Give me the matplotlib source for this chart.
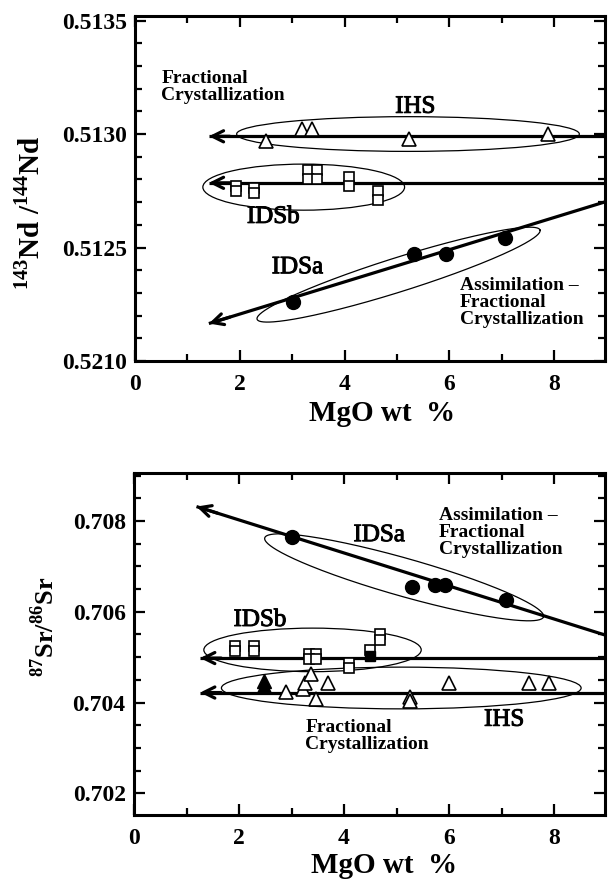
import numpy as np
import matplotlib
matplotlib.use("Agg")
import matplotlib.pyplot as plt
import matplotlib.patheffects as pe
from matplotlib.patches import Ellipse
from matplotlib.ticker import FixedLocator, FixedFormatter, MultipleLocator

plt.rcParams['font.family'] = ['Liberation Serif', 'DejaVu Serif']
plt.rcParams['mathtext.fontset'] = 'custom'
plt.rcParams['mathtext.rm'] = 'Liberation Serif:bold'
plt.rcParams['mathtext.bf'] = 'Liberation Serif:bold'

# ---- Nd panel data ----
nd_ihs_x = [2.50, 3.19, 3.37, 5.22, 7.89]
nd_ihs_y = [0.51297, 0.51302, 0.51302, 0.51298, 0.51300]
nd_idsb_x = [1.92, 1.92, 2.28, 2.28, 3.31, 3.47, 3.31, 3.47, 4.08, 4.08, 4.63, 4.63]
nd_idsb_y = [0.51277, 0.51275, 0.51276, 0.51274, 0.51284, 0.51284, 0.51280, 0.51280,
             0.51281, 0.51277, 0.51275, 0.51271]
nd_idsa_x = [3.01, 5.32, 5.93, 7.07]
nd_idsa_y = [0.51226, 0.51247, 0.51247, 0.51254]

# trend lines: (arrow tip x, tip y, slope)
nd_trends = [(1.41, 0.51299, 0.0), (1.41, 0.512785, 0.0), (1.41, 0.512165, 0.0000709)]
# group outlines: (cx, cy, width, height) and tilted (x1, y1, x2, y2, minor px)
nd_boxes = [(5.21, 0.51300, 6.54, 0.000153), (3.22, 0.512766, 3.85, 0.000203)]
nd_tilted = [(2.33, 0.512184, 7.73, 0.512577, 34)]

nd_yticks = [0.5120, 0.5125, 0.5130, 0.5135]
nd_ylabels = ['0.5210', '0.5125', '0.5130', '0.5135']

# ---- Sr panel data ----
sr_idsa_x = [3.01, 5.30, 5.74, 5.92, 7.08]
sr_idsa_y = [0.70766, 0.70655, 0.70658, 0.70658, 0.70625]
sr_idsb_x = [1.92, 1.92, 2.29, 2.29, 3.33, 3.46, 3.33, 3.46, 4.10, 4.10, 4.49, 4.68, 4.68]
sr_idsb_y = [0.70525, 0.70513, 0.70525, 0.70513, 0.70506, 0.70506, 0.70495, 0.70495,
             0.70487, 0.70476, 0.70516, 0.70550, 0.70538]
sr_idsb_fx = [4.49]
sr_idsb_fy = [0.70503]
sr_ihs_x = [2.89, 3.22, 3.26, 3.37, 3.47, 3.70, 5.26, 5.26, 5.99, 7.52, 7.91]
sr_ihs_y = [0.70423, 0.70430, 0.70444, 0.70462, 0.70407, 0.70443, 0.70412, 0.70404,
            0.70443, 0.70442, 0.70442]
sr_ihs_fx = [2.48, 2.48]
sr_ihs_fy = [0.70448, 0.70436]

sr_trends = [(1.19, 0.70832, -0.000364), (1.26, 0.70498, 0.0), (1.26, 0.70422, 0.0)]
sr_boxes = [(3.40, 0.70516, 4.14, 0.00096), (5.09, 0.70432, 6.85, 0.00092)]
sr_tilted = [(2.49, 0.70763, 7.80, 0.70589, 38)]

sr_yticks = [0.702, 0.704, 0.706, 0.708]
sr_ylabels = ['0.702', '0.704', '0.706', '0.708']

xticks = [0, 2, 4, 6, 8]

heavy = [pe.withStroke(linewidth=0.7, foreground='black')]


def tilted_ellipse(ax, x1, y1, x2, y2, minor_px):
    t = ax.transData
    a = t.transform((x1, y1))
    b = t.transform((x2, y2))
    c = (a + b) / 2
    u = (b - a) / 2
    n = np.array([-u[1], u[0]]) / np.hypot(*u) * minor_px / 2
    th = np.linspace(0, 2 * np.pi, 300)
    pts = c + np.outer(np.cos(th), u) + np.outer(np.sin(th), n)
    d = t.inverted().transform(pts)
    ax.plot(d[:, 0], d[:, 1], color='black', lw=0.9)


def trend(ax, x0, y0, slope, dx):
    x1 = 9.5
    ax.plot([x0, x1], [y0, y0 + slope * (x1 - x0)], color='black', lw=2.3,
            solid_capstyle='butt', zorder=3)
    ax.annotate('', xy=(x0, y0), xytext=(x0 + dx, y0 + slope * dx),
                arrowprops=dict(arrowstyle='->', lw=2.3, color='black',
                                mutation_scale=20, shrinkA=0, shrinkB=0), zorder=4)


def style(ax, ylim, yticks, ylabels, yminor):
    ax.set_xlim(0, 8.97)
    ax.set_ylim(*ylim)
    ax.xaxis.set_major_locator(FixedLocator(xticks))
    ax.xaxis.set_minor_locator(MultipleLocator(1))
    ax.yaxis.set_major_locator(FixedLocator(yticks))
    ax.yaxis.set_major_formatter(FixedFormatter(ylabels))
    ax.yaxis.set_minor_locator(MultipleLocator(yminor))
    ax.tick_params(which='both', direction='in', top=True, right=True, width=1.6)
    ax.tick_params(which='major', length=8, labelsize=17, pad=6)
    ax.tick_params(which='minor', length=5)
    ax.tick_params(axis='x', pad=9)
    for lab in ax.get_xticklabels() + ax.get_yticklabels():
        lab.set_fontweight('bold')
    for s in ax.spines.values():
        s.set_linewidth(2.2)
    ax.set_xlabel('MgO wt  %', fontsize=21, fontweight='bold', va='top')


def group_label(ax, x, y, s):
    ax.text(x, y, s, fontsize=18, ha='center', va='center', path_effects=heavy)


def note(ax, x, y, s):
    ax.text(x, y, s, fontsize=14, fontweight='bold', va='center', ha='left',
            linespacing=1.0)


fig = plt.figure(figsize=(6.08, 8.81), dpi=100)
ax1 = fig.add_axes([135 / 608, 1 - 361 / 881, 470 / 608, 345 / 881])
ax2 = fig.add_axes([134 / 608, 1 - 815 / 881, 471 / 608, 342 / 881])

# ---- top: Nd ----
style(ax1, (0.5120, 0.51352), nd_yticks, nd_ylabels, 0.0001)
for x0, y0, s in nd_trends:
    trend(ax1, x0, y0, s, 0.4)
for cx, cy, w, h in nd_boxes:
    ax1.add_patch(Ellipse((cx, cy), w, h, fill=False, lw=0.9, color='black'))
for e in nd_tilted:
    tilted_ellipse(ax1, *e)
ax1.plot(nd_ihs_x, nd_ihs_y, '^', ms=10, mfc='white', mec='black', mew=1.2, zorder=5)
ax1.plot(nd_idsb_x, nd_idsb_y, 's', ms=7, mfc='white', mec='black', mew=1.2, zorder=5)
ax1.plot(nd_idsa_x, nd_idsa_y, 'o', ms=10, color='black', zorder=5)

note(ax1, 0.50, 0.513205, 'Fractional\nCrystallization')
group_label(ax1, 5.35, 0.51312, 'IHS')
group_label(ax1, 2.64, 0.512635, 'IDSb')
group_label(ax1, 3.10, 0.512413, 'IDSa')
note(ax1, 6.20, 0.512257, 'Assimilation \u2013\nFractional\nCrystallization')
ax1.set_ylabel(r'$^{143}$Nd /$^{144}$Nd', fontsize=21, fontweight='bold')
ax1.yaxis.set_label_coords(-0.19, 0.43)
ax1.xaxis.set_label_coords(0.525, -0.113)

# ---- bottom: Sr ----
style(ax2, (0.70152, 0.70906), sr_yticks, sr_ylabels, 0.0005)
for x0, y0, s in sr_trends:
    trend(ax2, x0, y0, s, 0.4)
for cx, cy, w, h in sr_boxes:
    ax2.add_patch(Ellipse((cx, cy), w, h, fill=False, lw=0.9, color='black'))
for e in sr_tilted:
    tilted_ellipse(ax2, *e)
ax2.plot(sr_ihs_x, sr_ihs_y, '^', ms=10, mfc='white', mec='black', mew=1.2, zorder=5)
ax2.plot(sr_ihs_fx, sr_ihs_fy, '^', ms=10, color='black', zorder=5)
ax2.plot(sr_idsb_x, sr_idsb_y, 's', ms=7, mfc='white', mec='black', mew=1.2, zorder=5)
ax2.plot(sr_idsb_fx, sr_idsb_fy, 's', ms=7, color='black', zorder=5)
ax2.plot(sr_idsa_x, sr_idsa_y, 'o', ms=10, color='black', zorder=5)

note(ax2, 5.81, 0.70774, 'Assimilation \u2013\nFractional\nCrystallization')
group_label(ax2, 4.67, 0.70769, 'IDSa')
group_label(ax2, 2.40, 0.70582, 'IDSb')
note(ax2, 3.26, 0.70326, 'Fractional\nCrystallization')
group_label(ax2, 7.05, 0.70362, 'IHS')
ax2.set_ylabel(r'$^{87}$Sr/$^{86}$Sr', fontsize=19, fontweight='bold')
ax2.yaxis.set_label_coords(-0.16, 0.55)
ax2.xaxis.set_label_coords(0.53, -0.108)

fig.savefig('out.png', dpi=100)
